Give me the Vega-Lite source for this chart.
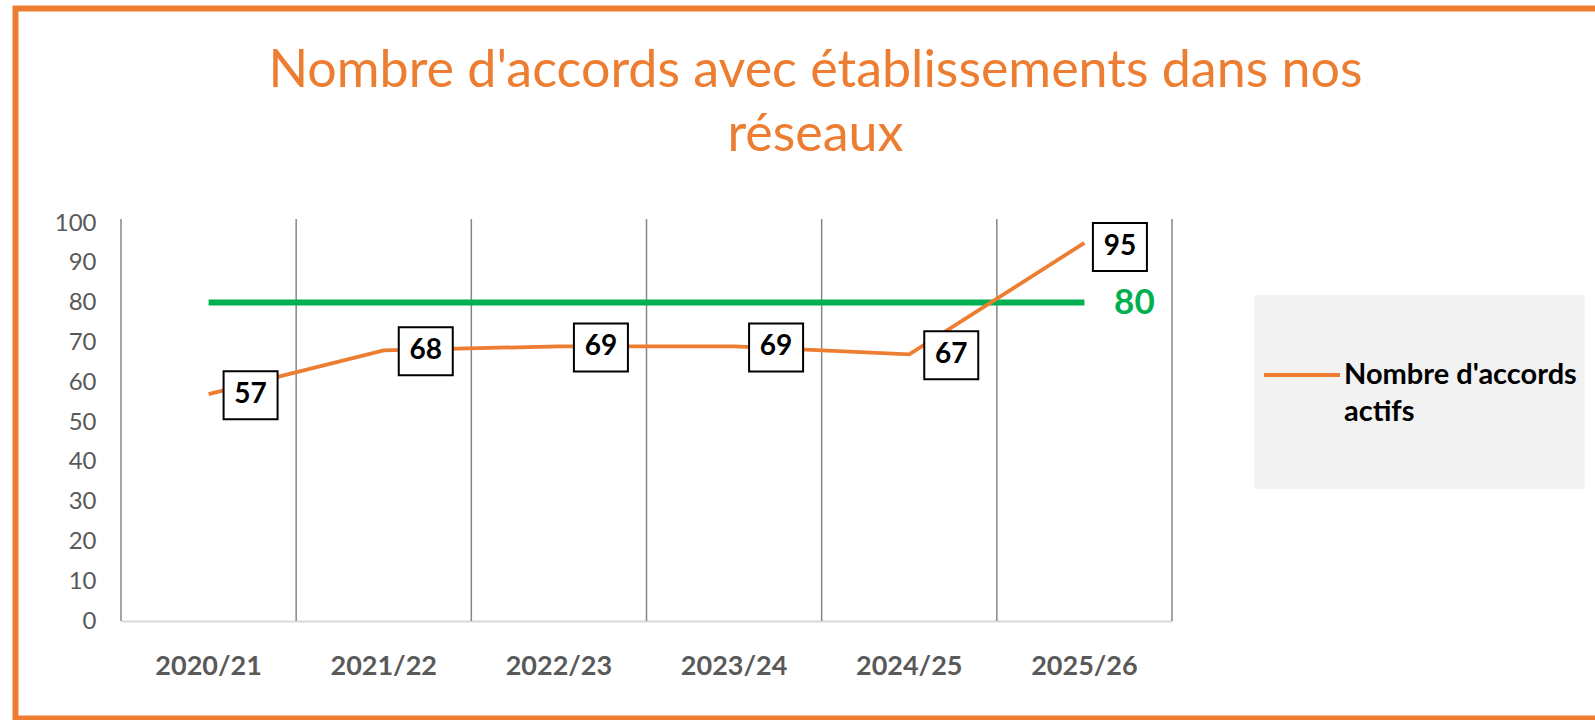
{
  "$schema": "https://vega.github.io/schema/vega-lite/v6.json",
  "width": 2000,
  "height": 710,
  "autosize": "none",
  "padding": {"left": 15.5, "top": 8.5, "right": -421, "bottom": 1.5},
  "config": {
    "view": {"stroke": "#ED7D31", "strokeWidth": 6},
    "font": "Lato",
    "axis": {"labelFont": "Lato"}
  },
  "title": {
    "text": ["Nombre d'accords avec établissements dans nos", "réseaux"],
    "fontSize": 52,
    "font": "Lato",
    "fontWeight": "normal",
    "color": "#ED7D31",
    "lineHeight": 64,
    "offset": -153,
    "anchor": "middle",
    "dx": -200,
    "frame": "group"
  },
  "data": {
    "values": [
      {"annee": "2020/21", "accords": 57, "cible": 80, "serie": "Nombre d'accords actifs"},
      {"annee": "2021/22", "accords": 68, "cible": 80, "serie": "Nombre d'accords actifs"},
      {"annee": "2022/23", "accords": 69, "cible": 80, "serie": "Nombre d'accords actifs"},
      {"annee": "2023/24", "accords": 69, "cible": 80, "serie": "Nombre d'accords actifs"},
      {"annee": "2024/25", "accords": 67, "cible": 80, "serie": "Nombre d'accords actifs"},
      {"annee": "2025/26", "accords": 95, "cible": 80, "serie": "Nombre d'accords actifs"}
    ]
  },
  "encoding": {
    "x": {
      "field": "annee",
      "type": "nominal",
      "sort": null,
      "scale": {"type": "band", "range": [105.5, 1156.5], "paddingInner": 0, "paddingOuter": 0},
      "axis": {
        "title": null,
        "orient": "bottom",
        "offset": -97.5,
        "labelAngle": 0,
        "labelFont": "Lato",
        "labelFontSize": 27,
        "labelFontWeight": "bold",
        "labelColor": "#595959",
        "labelBaseline": "middle",
        "labelPadding": 45.7,
        "ticks": false,
        "tickSize": 0,
        "domainColor": "#D9D9D9",
        "domainWidth": 2,
        "grid": false
      }
    }
  },
  "layer": [
    {
      "mark": {"type": "rule", "color": "#868686", "strokeWidth": 1.5},
      "encoding": {
        "x": {"field": "annee", "type": "nominal", "sort": null, "bandPosition": 0},
        "y": {"datum": 0, "type": "quantitative",
          "scale": {"domain": [0, 100], "range": [612.5, 214.5], "nice": false, "zero": true},
          "axis": {
            "title": null,
            "orient": "left",
            "offset": -105.5,
            "values": [0, 10, 20, 30, 40, 50, 60, 70, 80, 90, 100],
            "domain": false,
            "ticks": false,
            "tickSize": 0,
            "grid": false,
            "labelFont": "Lato",
            "labelFontSize": 24,
            "labelColor": "#595959",
            "labelPadding": 25
          }
        },
        "y2": {"datum": 101}
      }
    },
    {
      "transform": [{"filter": "datum.annee === '2025/26'"}],
      "mark": {"type": "rule", "color": "#868686", "strokeWidth": 1.5},
      "encoding": {
        "x": {"field": "annee", "type": "nominal", "sort": null, "bandPosition": 1},
        "y": {"datum": 0, "type": "quantitative"},
        "y2": {"datum": 101}
      }
    },
    {
      "mark": {"type": "line", "color": "#00B050", "strokeWidth": 6},
      "encoding": {
        "y": {"field": "cible", "type": "quantitative"}
      }
    },
    {
      "mark": {"type": "line", "strokeWidth": 3.75},
      "encoding": {
        "y": {"field": "accords", "type": "quantitative"},
        "color": {
          "field": "serie",
          "type": "nominal",
          "scale": {"range": ["#ED7D31"]},
          "legend": {
            "orient": "none",
            "legendX": 1239,
            "legendY": 286.5,
            "fillColor": "#F2F2F2",
            "padding": 7.5,
            "title": null,
            "symbolType": "M-1,-0.972M-1,1.383M-1,0H0.078",
            "symbolSize": 19881,
            "symbolStrokeWidth": 4,
            "symbolStrokeColor": "#ED7D31",
            "labelOffset": -63,
            "labelFont": "Lato",
            "labelFontSize": 29,
            "labelFontWeight": "bold",
            "labelColor": "#000000",
            "labelLimit": 500,
            "labelExpr": "[\"Nombre d'accords\", \"actifs\"]",
            "encode": {"labels": {"update": {"lineHeight": {"value": 37}}}}
          }
        }
      }
    },
    {
      "transform": [{"filter": "datum.annee !== '2025/26'"}],
      "mark": {"type": "point", "shape": "M-1,-0.889H1V0.889H-1Z", "size": 2916, "filled": true, "fill": "#FFFFFF", "stroke": "#000000", "strokeWidth": 2, "opacity": 1, "xOffset": 42, "yOffset": 1},
      "encoding": {
        "y": {"field": "accords", "type": "quantitative"}
      }
    },
    {
      "transform": [{"filter": "datum.annee !== '2025/26'"}],
      "mark": {"type": "text", "font": "Lato", "fontSize": 28, "fontWeight": "bold", "color": "#000000", "baseline": "middle", "align": "center", "xOffset": 42, "yOffset": 1},
      "encoding": {
        "y": {"field": "accords", "type": "quantitative"},
        "text": {"field": "accords", "type": "quantitative"}
      }
    },
    {
      "transform": [{"filter": "datum.annee === '2025/26'"}],
      "mark": {"type": "point", "shape": "M-1,-0.889H1V0.889H-1Z", "size": 2916, "filled": true, "fill": "#FFFFFF", "stroke": "#000000", "strokeWidth": 2, "opacity": 1, "xOffset": 35.5, "yOffset": 4},
      "encoding": {
        "y": {"field": "accords", "type": "quantitative"}
      }
    },
    {
      "transform": [{"filter": "datum.annee === '2025/26'"}],
      "mark": {"type": "text", "font": "Lato", "fontSize": 28, "fontWeight": "bold", "color": "#000000", "baseline": "middle", "align": "center", "xOffset": 35.5, "yOffset": 4},
      "encoding": {
        "y": {"field": "accords", "type": "quantitative"},
        "text": {"field": "accords", "type": "quantitative"}
      }
    },
    {
      "transform": [{"filter": "datum.annee === '2025/26'"}],
      "mark": {"type": "text", "font": "Lato", "fontSize": 35, "fontWeight": "bold", "color": "#00B050", "baseline": "middle", "align": "center", "xOffset": 50},
      "encoding": {
        "y": {"field": "cible", "type": "quantitative"},
        "text": {"field": "cible", "type": "quantitative"}
      }
    }
  ]
}
